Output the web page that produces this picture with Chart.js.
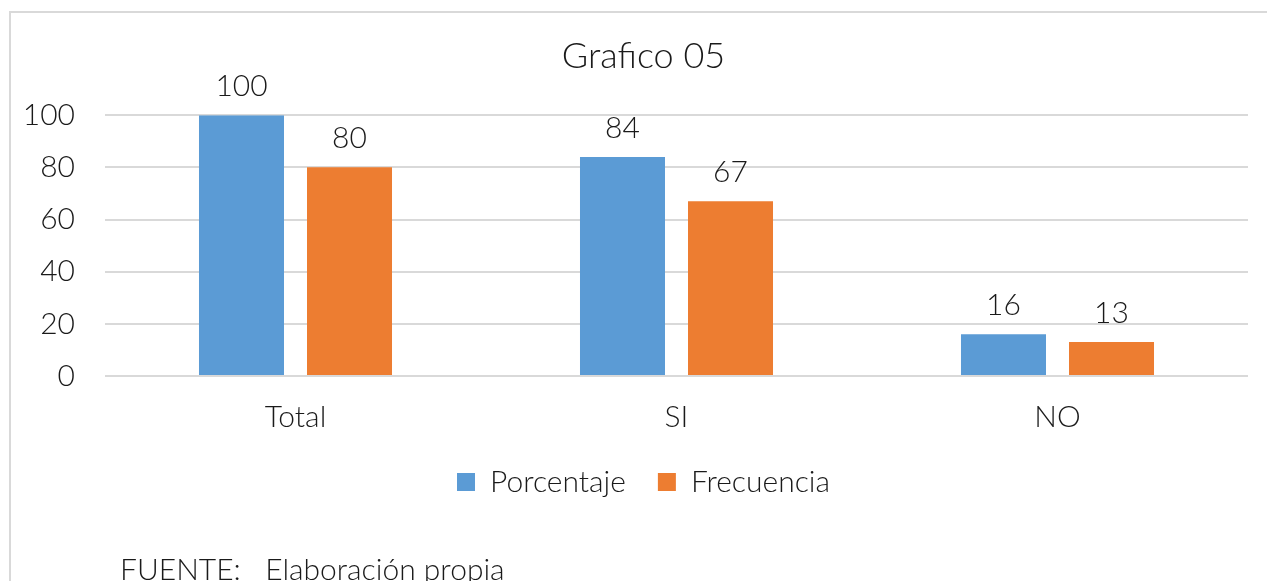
<!DOCTYPE html>
<html>
<head>
<meta charset="utf-8">
<script src="https://cdn.jsdelivr.net/npm/chart.js@4.4.1/dist/chart.umd.min.js"></script>
<style>
  html, body { margin: 0; padding: 0; background: #fff; }
  #wrap { position: relative; width: 1267px; height: 581px; overflow: hidden; }
  #frame { position: absolute; left: 9px; top: 11px; width: 1400px; height: 700px;
           border-top: 2px solid #d9d9d9; border-left: 2px solid #d9d9d9; box-sizing: border-box; }
  canvas { position: absolute; left: 0; top: 0; }
  #footer { position: absolute; left: 120px; top: 553px; font-family: Lato, "Open Sans", sans-serif;
            font-weight: 300; font-size: 30px; line-height: 30px; color: #1a1a1a; white-space: pre; }
</style>
</head>
<body>
<div id="wrap">
  <div id="frame"></div>
  <canvas id="c" width="1267" height="581"></canvas>
  <div id="footer">FUENTE:   Elaboración propia</div>
</div>
<script>
const categories = ["Total", "SI", "NO"];
const porcentaje = [100, 84, 16];
const frecuencia = [80, 67, 13];
const yTicks = [0, 20, 40, 60, 80, 100];

const FONT = "Lato, 'Open Sans', sans-serif";
const TEXT = "#1a1a1a";

const valueLabels = {
  id: "valueLabels",
  afterDatasetsDraw(chart) {
    const ctx = chart.ctx;
    ctx.save();
    ctx.font = "300 30px " + FONT;
    ctx.fillStyle = TEXT;
    ctx.textAlign = "center";
    ctx.textBaseline = "alphabetic";
    chart.data.datasets.forEach((ds, i) => {
      chart.getDatasetMeta(i).data.forEach((bar, j) => {
        ctx.fillText(String(ds.data[j]), bar.x, bar.y - 19);
      });
    });
    ctx.restore();
  }
};

new Chart(document.getElementById("c"), {
  type: "bar",
  data: {
    labels: categories,
    datasets: [
      { label: "Porcentaje", data: porcentaje, backgroundColor: "#5B9BD5",
        categoryPercentage: 0.567, barPercentage: 0.787 },
      { label: "Frecuencia", data: frecuencia, backgroundColor: "#ED7D31",
        categoryPercentage: 0.567, barPercentage: 0.787 }
    ]
  },
  options: {
    responsive: false,
    animation: false,
    layout: { padding: { left: 39, right: 19, top: 0, bottom: 74 } },
    plugins: {
      title: { display: true, text: "Grafico 05", color: TEXT,
               font: { family: FONT, size: 36, weight: 300 },
               padding: { top: 35, bottom: 37 } },
      legend: { position: "bottom",
                labels: { color: TEXT, font: { family: FONT, size: 30, weight: 300 },
                          boxWidth: 18, boxHeight: 18, padding: 32 } },
      tooltip: { enabled: false }
    },
    scales: {
      x: {
        grid: { display: false, drawTicks: false },
        border: { display: false },
        ticks: { color: TEXT, font: { family: FONT, size: 30, weight: 300 }, padding: 23 },
        afterFit(s) { s.height = 59; }
      },
      y: {
        min: 0, max: 100,
        afterBuildTicks(s) { s.ticks = yTicks.map(v => ({ value: v })); },
        grid: { color: "#d9d9d9", lineWidth: 2, drawTicks: false },
        border: { display: false },
        ticks: { color: TEXT, font: { family: FONT, size: 30, weight: 300 }, padding: 30 },
        afterFit(s) { s.width = 66; s._computeLabelArea = function () { return undefined; }; }
      }
    }
  },
  plugins: [valueLabels]
});
</script>
</body>
</html>
